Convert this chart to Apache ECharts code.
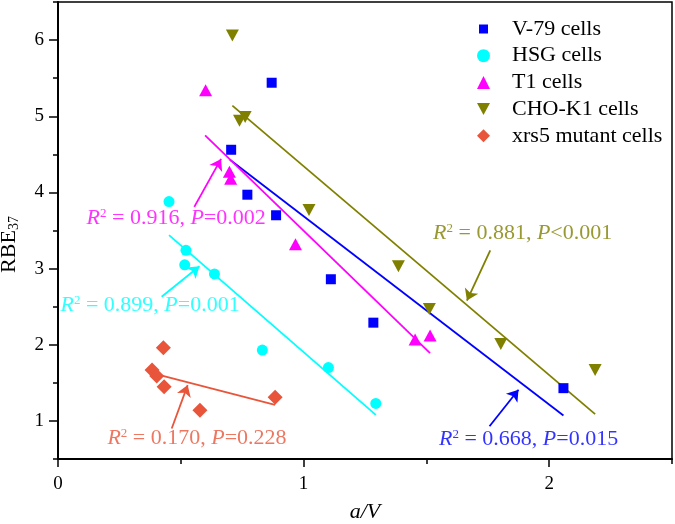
<!DOCTYPE html>
<html>
<head>
<meta charset="utf-8">
<script src="https://cdn.jsdelivr.net/npm/echarts@6/dist/echarts.min.js"></script>
<style>html,body{margin:0;padding:0;background:#fff}#c{width:675px;height:524px}</style>
</head>
<body>
<div id="c"></div>
<script>
// ---- data ----
const v79 = [[0.705,4.56],[0.870,5.44],[0.771,3.97],[0.888,3.70],[1.111,2.86],[1.284,2.29],[2.058,1.43]];
const hsg = [[0.452,3.88],[0.521,3.24],[0.516,3.05],[0.637,2.93],[0.832,1.93],[1.101,1.70],[1.294,1.23]];
const t1 = [[0.601,5.34],[0.698,4.27],[0.703,4.18],[0.967,3.32],[1.454,2.07],[1.515,2.12]];
const cho = [[0.710,6.06],[0.739,4.94],[0.762,4.99],[1.022,3.77],[1.386,3.03],[1.512,2.47],[1.803,2.01],[2.187,1.67]];
const xrs5 = [[0.383,1.67],[0.402,1.59],[0.429,1.96],[0.432,1.45],[0.578,1.14],[0.884,1.31]];

const fitV79 = [[0.700,4.43],[2.058,1.07]];
const fitHsg = [[0.452,3.44],[1.294,1.08]];
const fitT1 = [[0.599,4.75],[1.515,1.89]];
const fitCho = [[0.710,5.14],[2.187,1.09]];
const fitXrs5 = [[0.415,1.60],[0.884,1.21]];

const seriesNames = ['V-79 cells','HSG cells','T1 cells','CHO-K1 cells','xrs5 mutant cells'];
const colors = ['#0000FF','#00FFFF','#FF00FF','#808000','#E8553A'];

// annotations: R2 value, P text, label position, arrow start, arrow tip
const annR2 = ['0.668','0.899','0.916','0.881','0.170'];
const annP = ['=0.015','=0.001','=0.002','<0.001','=0.228'];
const annPos = [[1.916,0.76],[0.375,2.52],[0.481,3.66],[1.892,3.46],[0.566,0.773]];
const arrowFrom = [[1.757,0.93],[0.422,2.63],[0.555,3.81],[1.760,3.24],[0.463,0.90]];
const arrowTo = [[1.875,1.41],[0.576,3.03],[0.664,4.44],[1.665,2.58],[0.528,1.47]];

const xLabels = [0,1,2];
const yLabels = [1,2,3,4,5,6];

const font = '"Liberation Serif","Times New Roman",serif';
const chart = echarts.init(document.getElementById('c'));

const symbols = ['rect','circle','triangle','triangle','diamond'];
const sizes = [10,11,[13,12],[13,12],15];
const rotates = [0,0,0,180,0];
const pts = [v79,hsg,t1,cho,xrs5];
const fits = [fitV79,fitHsg,fitT1,fitCho,fitXrs5];
const legendIcons = ['path://M0,0M13,13M2,2h9v9h-9z','circle','triangle','path://M0,0L13,0L6.5,12Z','diamond'];

const series = [];
pts.forEach((d,i)=>{
  series.push({name:seriesNames[i],type:'scatter',data:d,symbol:symbols[i],symbolSize:sizes[i],
    symbolRotate:rotates[i],itemStyle:{color:colors[i],opacity:1},z:5});
});
fits.forEach((d,i)=>{
  series.push({type:'line',data:d,showSymbol:false,symbol:'none',lineStyle:{color:colors[i],width:1.8},z:3,silent:true});
});
arrowFrom.forEach((f,i)=>{
  series.push({type:'lines',coordinateSystem:'cartesian2d',data:[{coords:[f,arrowTo[i]]}],
    symbol:['none','arrow'],symbolSize:[0,11],lineStyle:{color:colors[i],width:1.8,opacity:1,curveness:0},z:4,silent:true});
});
annPos.forEach((p,i)=>{
  series.push({type:'scatter',data:[p],symbolSize:0,silent:true,z:6,
    label:{show:true,position:'inside',color:colors[i],fontFamily:font,
      formatter:'{i|R}{s|2}{n| = '+annR2[i]+', }{i|P}{n|'+annP[i]+'}',
      rich:{i:{fontStyle:'italic',fontSize:22,fontFamily:font,color:colors[i]},
            n:{fontSize:22,fontFamily:font,color:colors[i]},
            s:{fontSize:13,fontFamily:font,color:colors[i],verticalAlign:'top',padding:[0,0,10,0]}}}});
});

const axisLineStyle = {color:'#000',width:2};
chart.setOption({
  animation:false,
  grid:{left:58,top:2,right:3,bottom:65,show:true,borderColor:'#000',borderWidth:1.5,containLabel:false,outerBoundsMode:'none'},
  legend:{data:seriesNames.map((n,i)=>({name:n,icon:legendIcons[i]})),orient:'vertical',left:472,top:13,
    itemWidth:13,itemHeight:13,itemGap:4.7,
    textStyle:{fontFamily:font,fontSize:22,color:'#000',padding:[0,0,0,17]}},
  xAxis:[{type:'value',min:0,max:2.5,interval:0.5,position:'bottom',
      axisLine:{lineStyle:axisLineStyle},axisTick:{length:5,lineStyle:{width:1.5,color:'#000'}},
      axisLabel:{show:true,margin:16,fontFamily:font,fontSize:19,color:'#000',
        formatter:v=>(Math.abs(v-Math.round(v))<1e-9 && xLabels.indexOf(Math.round(v))>=0)?String(Math.round(v)):''},
      splitLine:{show:false},
      name:'a/V',nameLocation:'middle',nameGap:42,
      nameTextStyle:{fontFamily:font,fontSize:22,fontStyle:'italic',color:'#000'}},
    {type:'value',min:0,max:2.5,position:'bottom',axisLine:{show:false},
      axisTick:{show:true,length:8,customValues:xLabels,lineStyle:{width:1.5,color:'#000'}},
      axisLabel:{show:false},splitLine:{show:false}}],
  yAxis:[{type:'value',min:0.5,max:6.5,interval:0.5,position:'left',
      axisLine:{lineStyle:axisLineStyle},axisTick:{length:5,lineStyle:{width:1.5,color:'#000'}},
      axisLabel:{show:true,margin:14,fontFamily:font,fontSize:19,color:'#000',
        formatter:v=>(Math.abs(v-Math.round(v))<1e-9 && yLabels.indexOf(Math.round(v))>=0)?String(Math.round(v)):''},
      splitLine:{show:false},
      name:'{a|RBE}{b|37}',nameLocation:'middle',nameGap:37,
      nameTextStyle:{padding:[0,28,0,0],rich:{a:{fontFamily:font,fontSize:22,color:'#000'},b:{fontFamily:font,fontSize:14,color:'#000',verticalAlign:'bottom',padding:[10,0,0,0]}}}},
    {type:'value',min:0.5,max:6.5,position:'left',axisLine:{show:false},
      axisTick:{show:true,length:9,customValues:yLabels,lineStyle:{width:1.5,color:'#000'}},
      axisLabel:{show:false},splitLine:{show:false}}],
  series:series
});
</script>
</body>
</html>
